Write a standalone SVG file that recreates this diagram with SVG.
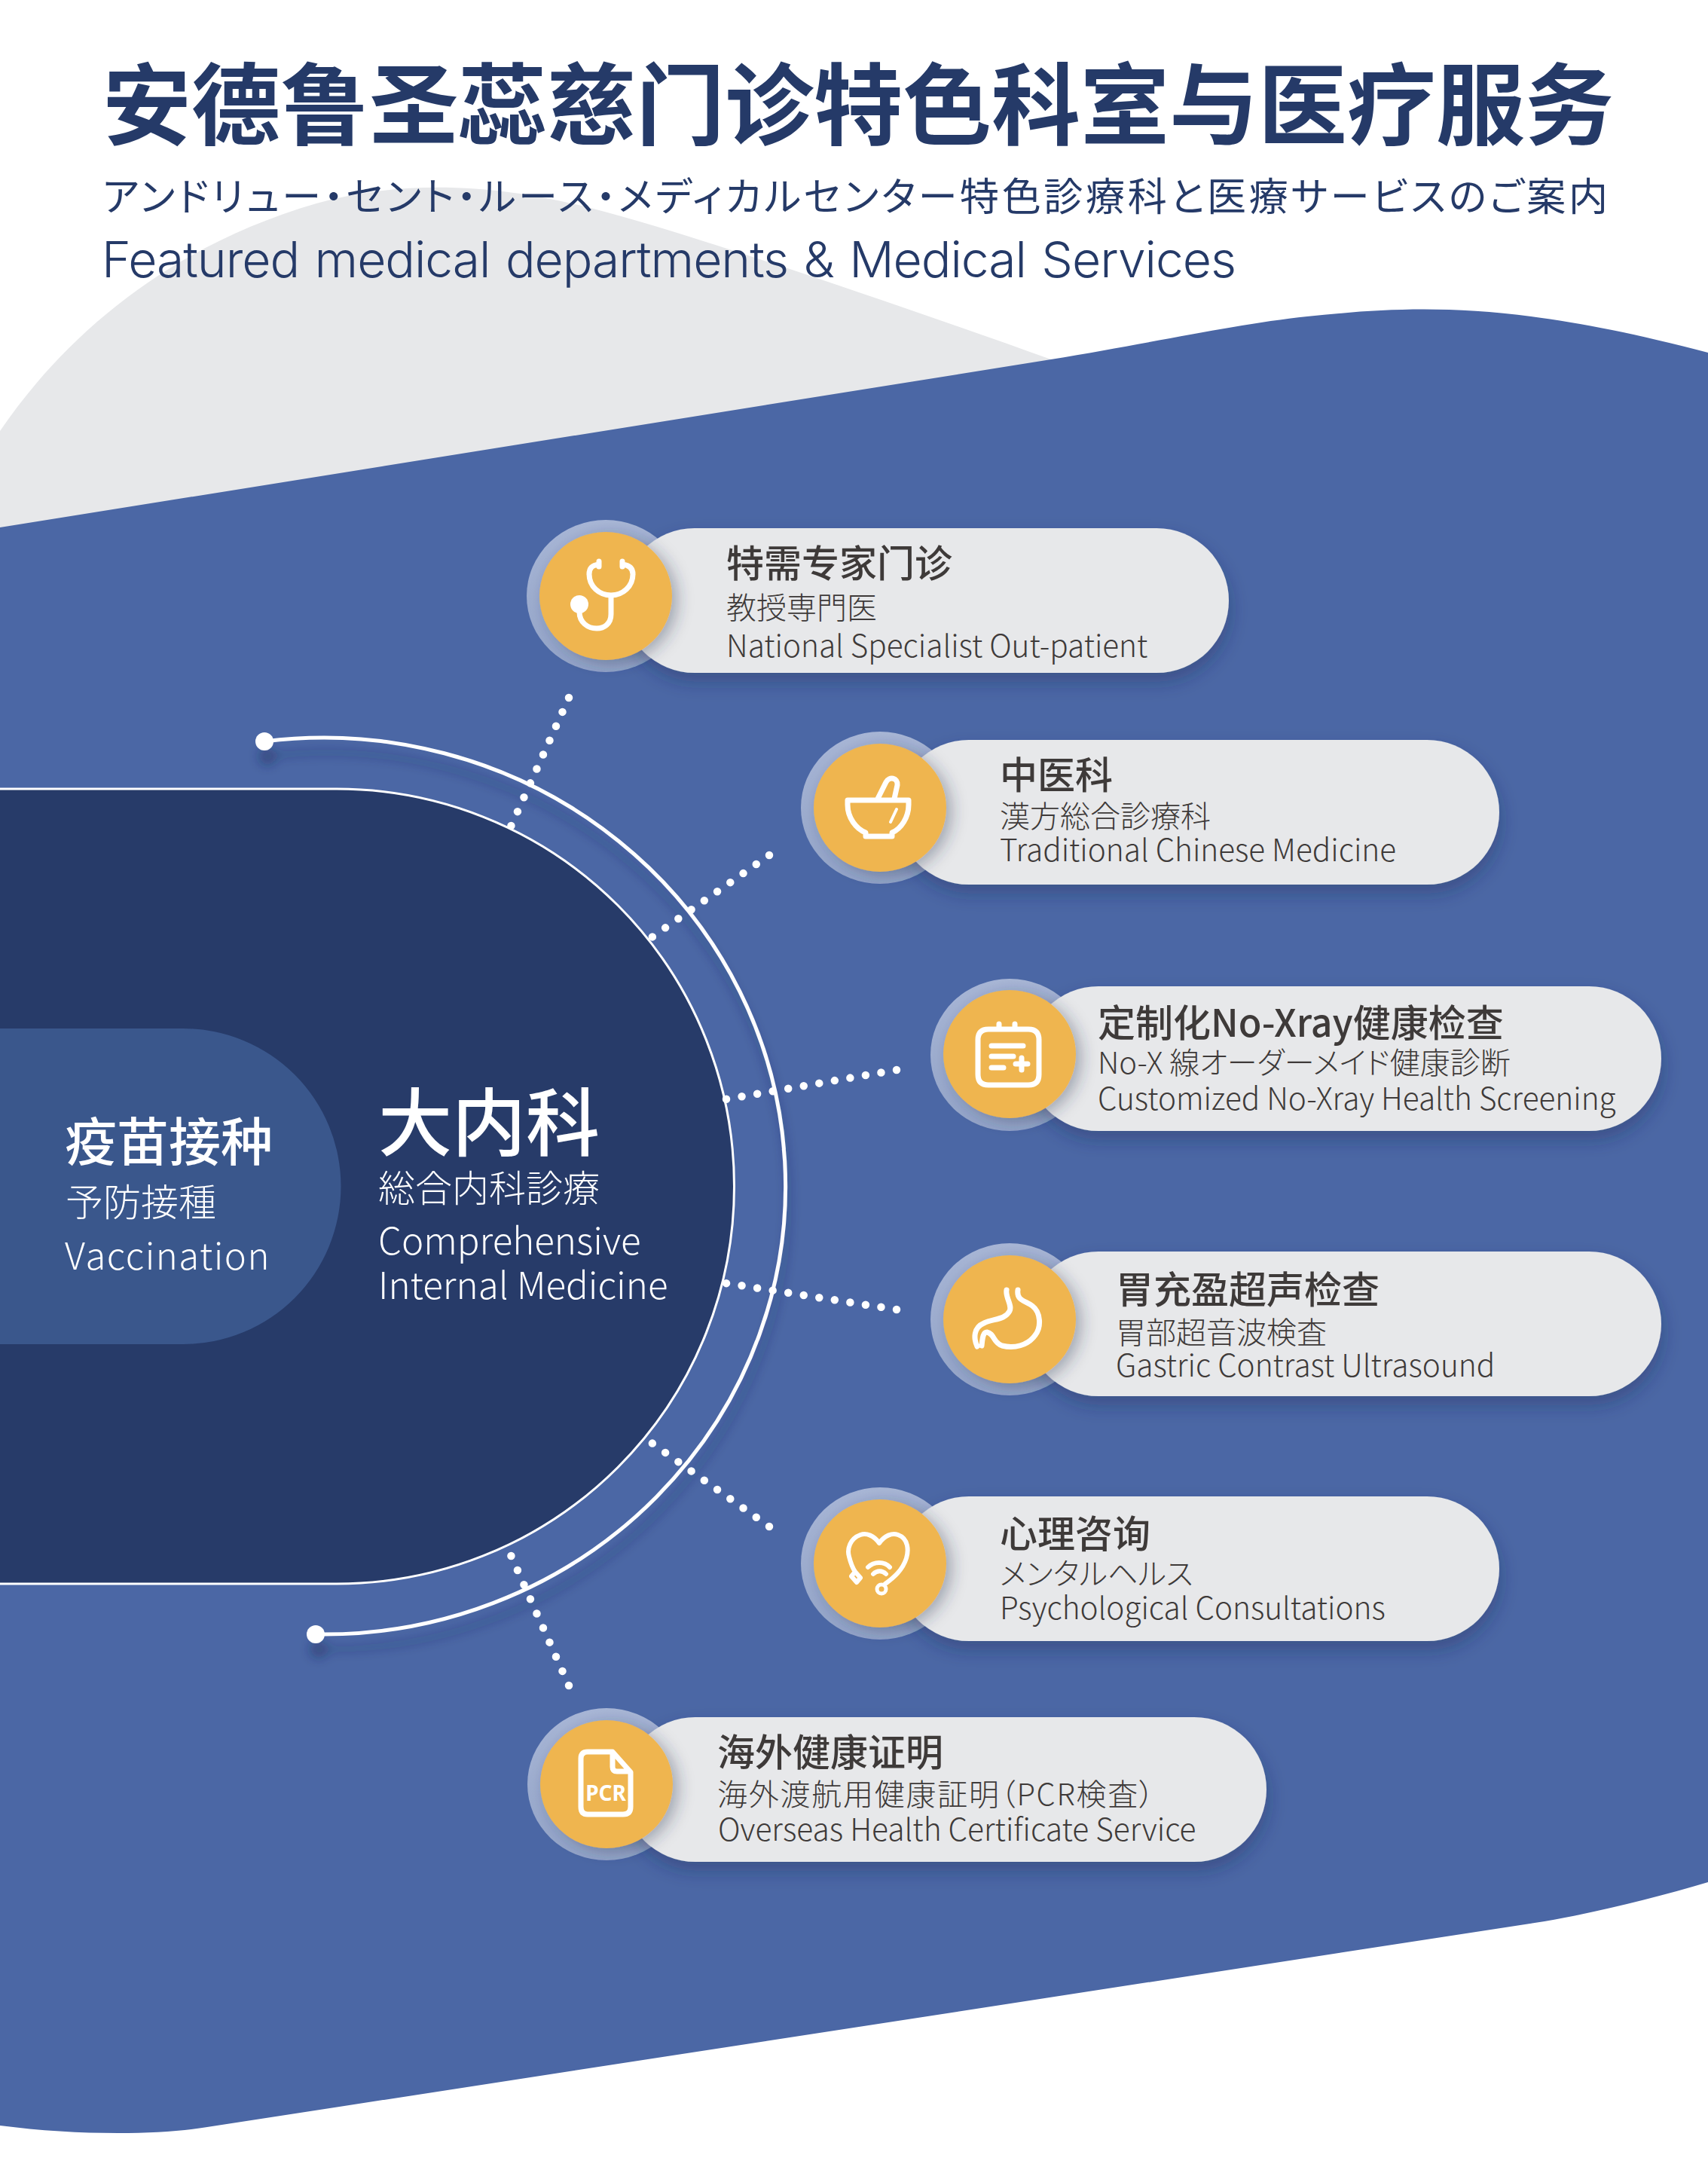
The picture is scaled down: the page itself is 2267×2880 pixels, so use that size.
<svg xmlns="http://www.w3.org/2000/svg" width="2267" height="2880" viewBox="0 0 2267 2880">
<style>
text{font-family:"Noto Sans CJK SC","Noto Sans CJK JP",sans-serif}
.t{font-size:50px;font-weight:500;fill:#3e3a39}
.j{font-family:"Noto Sans CJK JP","Noto Sans CJK SC",sans-serif;font-size:40px;font-weight:300;fill:#3e3a39;font-feature-settings:"palt"}
.e{font-family:"Noto Sans CJK JP","Noto Sans CJK SC",sans-serif;font-size:40.500px;font-weight:300;fill:#3e3a39}
.w{fill:#fff}
.jw{fill:#fff;font-weight:300;font-family:"Noto Sans CJK JP",sans-serif}
.halo{fill:url(#hg)}
.pill{fill:#e7e8ea;filter:url(#ps)}
.dot{fill:#efb54f;filter:url(#cs)}
.ic{fill:none;stroke:#fff;stroke-width:7;stroke-linecap:round;stroke-linejoin:round}
.dl{fill:none;stroke:#fff;stroke-width:10.500;stroke-linecap:round;stroke-dasharray:0 1}
</style>
<defs>
<linearGradient id="hg" x1="0" y1="0" x2="0" y2="1"><stop offset="0" stop-color="#a8b6d6"/><stop offset="1" stop-color="#93a4c8"/></linearGradient>
<filter id="ps" x="-15%" y="-30%" width="130%" height="170%"><feDropShadow dx="2" dy="12" stdDeviation="12" flood-color="#1d2c55" flood-opacity=".35"/></filter>
<filter id="cs" x="-30%" y="-30%" width="170%" height="170%"><feDropShadow dx="8" dy="5" stdDeviation="10" flood-color="#2a3350" flood-opacity=".35"/></filter>
<filter id="as" x="-20%" y="-20%" width="140%" height="140%"><feDropShadow dx="4" dy="20" stdDeviation="7" flood-color="#1d2c55" flood-opacity=".4"/></filter>
</defs>
<rect width="2267" height="2880" fill="#fff"/>
<path id="bg-grey" fill="#e7e8ea" d="M0 572C90 440 230 325 420 270C520 242 640 240 780 275C900 305 1180 400 1395 477L1395 800L0 800Z"/>
<path id="bg-blue" fill="#4b67a5" d="M0 700L1395 477C1530 455 1640 430 1735 420C1880 405 2010 400 2267 468V2498C2200 2518 2120 2538 2050 2550L275 2823C210 2834 100 2834 0 2821Z"/>
<g id="node-main">
<path fill="#273b69" stroke="#fff" stroke-width="3" d="M-5 1047H447A527 527 0 0 1 447 2102H-5Z"/>
<text x="502" y="1526" class="w" style="font-size:98px;font-weight:500">大内科</text>
<text x="502" y="1595" class="jw" style="font-size:49px">総合内科診療</text>
<text x="502" y="1665" class="jw" style="font-size:49.300px">Comprehensive</text>
<text x="502" y="1724" class="jw" style="font-size:49.300px">Internal Medicine</text>
</g>
<g id="node-vaccination">
<path fill="#3a578c" d="M0 1365H243A209.500 209.500 0 0 1 243 1784H0Z"/>
<text x="86" y="1541" class="w" style="font-size:69px;font-weight:500">疫苗接种</text>
<text x="87" y="1614" class="jw" style="font-size:50px">予防接種</text>
<text x="86" y="1685" class="jw" style="font-size:49px;letter-spacing:1.500px">Vaccination</text>
</g>
<g id="connectors">
<g filter="url(#as)">
<path fill="none" stroke="#fff" stroke-width="5" d="M351 984A613 595 0 1 1 419 2169"/>
<circle class="w" cx="351" cy="984" r="12"/><circle class="w" cx="419" cy="2169" r="12"/>
</g>
<path class="dl" pathLength="9.050" d="M755 926L678 1097"/>
<path class="dl" pathLength="9.050" d="M1021 1135L865 1244"/>
<path class="dl" pathLength="11.050" d="M1190 1420L963 1459"/>
<path class="dl" pathLength="11.050" d="M1190 1738L963 1703"/>
<path class="dl" pathLength="9.050" d="M1021 2026L865 1915"/>
<path class="dl" pathLength="9.050" d="M755 2237L678 2064"/>
</g>
<g id="header">
<text x="136" y="183" style="font-size:118px;font-weight:700;fill:#253a68">安德鲁圣蕊慈门诊特色科室与医疗服务</text>
<text x="136" y="280" textLength="1998" style="font-size:52px;font-weight:400;fill:#253a68;font-family:'Noto Sans CJK JP',sans-serif;font-feature-settings:'palt'">アンドリュー・セント・ルース・メディカルセンター特色診療科と医療サービスのご案内</text>
<text x="135" y="368" textLength="1506" style="font-size:66px;font-weight:300;word-spacing:3px;fill:#253a68;font-family:Inter,sans-serif">Featured medical departments &amp; Medical Services</text>
</g>
<g id="node-specialist">
<ellipse class="halo" cx="804" cy="791" rx="105" ry="101"/><rect class="pill" x="826" y="701" width="805" height="192" rx="96"/><ellipse class="dot" cx="804" cy="791" rx="88" ry="85"/>
<path class="ic" d="M795 749C786 750 782 754 782 762C782 778 795 790 811 790C827 790 840 778 840 762C840 754 835 750 826 749M795 745V752M826 745V752M811 790V815C811 828 802 834 792 834C780 834 769 826 769 812"/><circle class="w" cx="769" cy="802" r="12"/>
<text x="964" y="766" class="t">特需专家门诊</text><text x="964" y="821" class="j">教授専門医</text><text x="964" y="872" class="e">National Specialist Out-patient</text>
</g>
<g id="node-tcm">
<ellipse class="halo" cx="1168" cy="1072" rx="105" ry="101"/><rect class="pill" x="1190" y="982" width="800" height="192" rx="96"/><ellipse class="dot" cx="1168" cy="1072" rx="88" ry="85"/>
<path class="ic" d="M1125 1062H1206V1068C1206 1085 1196 1100 1184 1105V1110H1149V1105C1136 1100 1125 1085 1125 1068ZM1165 1060L1176 1038C1180 1030 1192 1032 1191 1042L1187 1060"/><path class="ic" style="stroke-width:4" d="M1190 1074L1182 1091"/>
<text x="1327" y="1047" class="t">中医科</text><text x="1327" y="1098" class="j">漢方総合診療科</text><text x="1327" y="1143" class="e">Traditional Chinese Medicine</text>
</g>
<g id="node-xray">
<ellipse class="halo" cx="1340" cy="1400" rx="105" ry="101"/><rect class="pill" x="1362" y="1309" width="843" height="192" rx="96"/><ellipse class="dot" cx="1340" cy="1399" rx="88" ry="85"/>
<path class="ic" d="M1312 1366H1365Q1379 1366 1379 1380V1426Q1379 1440 1365 1440H1312Q1298 1440 1298 1426V1380Q1298 1366 1312 1366ZM1326 1359V1366M1347 1359V1366M1316 1388H1358M1316 1402H1345M1316 1417H1332M1356 1404V1420M1348 1412H1364"/>
<text x="1457" y="1376" class="t">定制化No-Xray健康检查</text><text x="1457" y="1425" class="j">No-X 線オーダーメイド健康診断</text><text x="1457" y="1473" class="e">Customized No-Xray Health Screening</text>
</g>
<g id="node-gastric">
<ellipse class="halo" cx="1340" cy="1751" rx="105" ry="101"/><rect class="pill" x="1362" y="1661" width="843" height="192" rx="96"/><ellipse class="dot" cx="1340" cy="1751" rx="88" ry="85"/>
<path class="ic" d="M1336 1712C1334 1722 1344 1732 1340 1740C1334 1752 1318 1750 1306 1756C1292 1762 1292 1776 1297 1787M1351 1712C1349 1726 1360 1726 1370 1733C1382 1742 1382 1762 1374 1772C1364 1786 1346 1790 1330 1786C1318 1782 1320 1770 1310 1768C1304 1768 1304 1778 1303 1786"/>
<text x="1481" y="1730" class="t">胃充盈超声检查</text><text x="1481" y="1783" class="j">胃部超音波検査</text><text x="1481" y="1827" class="e">Gastric Contrast Ultrasound</text>
</g>
<g id="node-psych">
<ellipse class="halo" cx="1168" cy="2075" rx="105" ry="101"/><rect class="pill" x="1190" y="1986" width="800" height="192" rx="96"/><ellipse class="dot" cx="1168" cy="2075" rx="88" ry="85"/>
<path class="ic" style="stroke-width:6" d="M1167 2048C1160 2038 1150 2034 1142 2037C1128 2042 1124 2056 1127 2066C1129 2074 1131 2080 1135 2086M1167 2048C1174 2038 1184 2034 1192 2037C1206 2042 1206 2058 1203 2068C1198 2084 1186 2094 1175 2102M1135 2086L1130 2092L1137 2100L1142 2094ZM1152 2080C1160 2072 1174 2072 1181 2080M1159 2089C1164 2084 1171 2084 1176 2089"/><circle cx="1170" cy="2109" r="6" fill="none" stroke="#fff" stroke-width="5"/>
<text x="1327" y="2054" class="t">心理咨询</text><text x="1327" y="2103" class="j">メンタルヘルス</text><text x="1327" y="2149" class="e">Psychological Consultations</text>
</g>
<g id="node-overseas">
<ellipse class="halo" cx="805" cy="2368" rx="105" ry="101"/><rect class="pill" x="827" y="2279" width="854" height="192" rx="96"/><ellipse class="dot" cx="805" cy="2368" rx="88" ry="85"/>
<path class="ic" d="M780 2325H813L837 2352V2398Q837 2408 827 2408H780Q771 2408 771 2398V2334Q771 2325 780 2325ZM813 2327V2345Q813 2351 819 2351H835"/>
<text x="804" y="2390" text-anchor="middle" class="w" style="font-size:28px;font-weight:700;font-family:'Noto Sans',sans-serif">PCR</text>
<text x="952" y="2344" class="t">海外健康证明</text><text x="952" y="2396" class="j" textLength="580">海外渡航用健康証明（PCR検査）</text><text x="953" y="2443" class="e" style="font-size:40.700px">Overseas Health Certificate Service</text>
</g>
</svg>
